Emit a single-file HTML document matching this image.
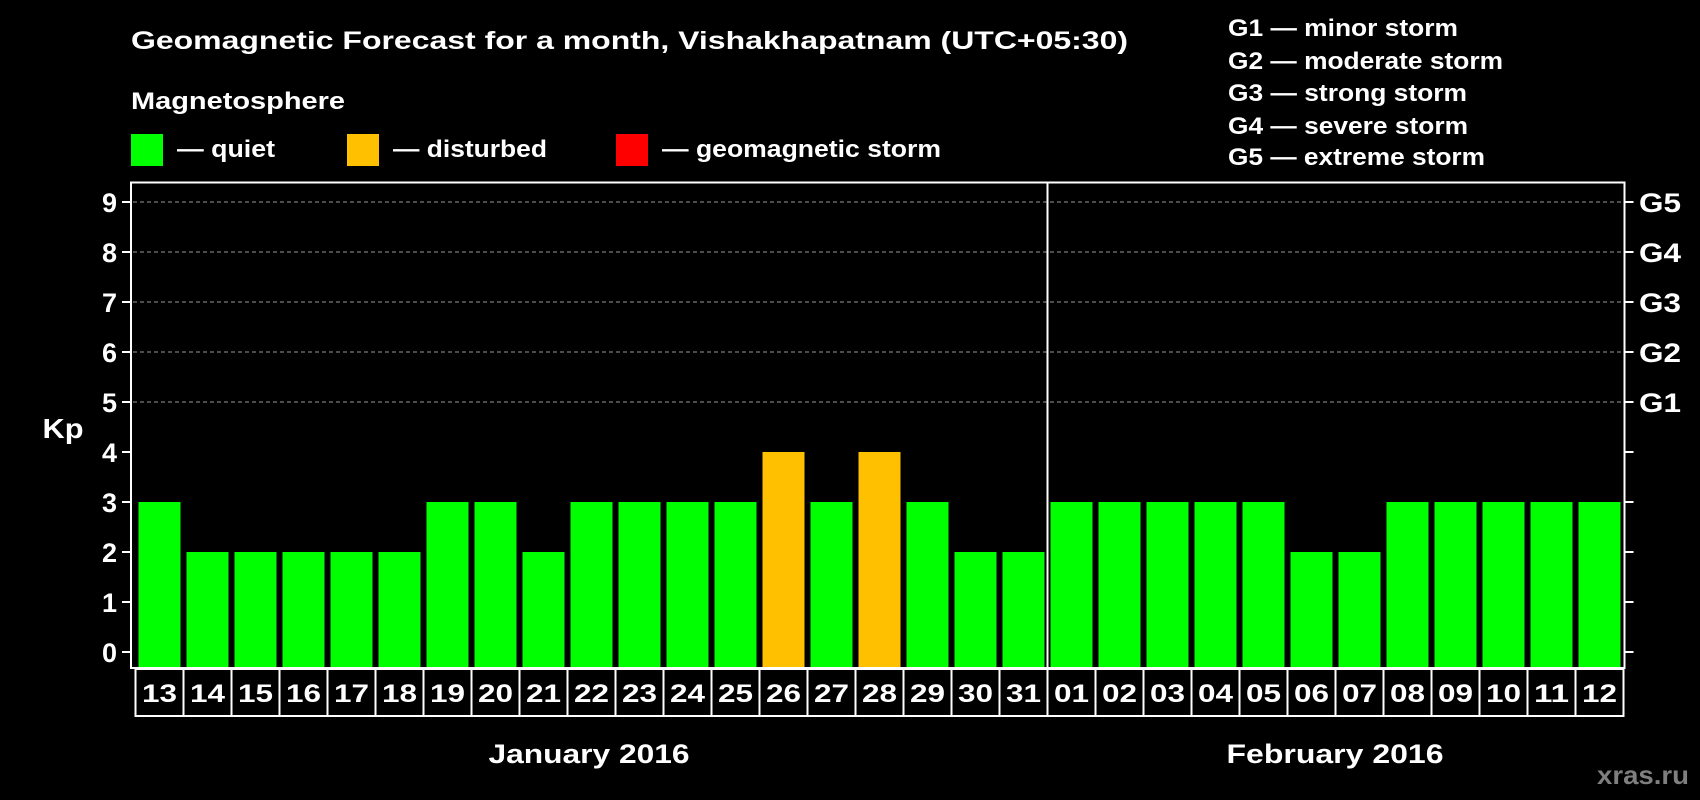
<!DOCTYPE html>
<html><head><meta charset="utf-8"><style>
html,body{margin:0;padding:0;background:#000;}
svg{display:block;font-family:"Liberation Sans",Arial,sans-serif;font-weight:bold;}
</style></head><body>
<svg id="chart" width="1700" height="800" viewBox="0 0 1700 800">
<rect width="1700" height="800" fill="#000"/>
<text x="131" y="49" fill="#fff" font-size="25" textLength="997" lengthAdjust="spacingAndGlyphs">Geomagnetic Forecast for a month, Vishakhapatnam (UTC+05:30)</text>
<text x="131" y="109" fill="#fff" font-size="24" textLength="214" lengthAdjust="spacingAndGlyphs">Magnetosphere</text>
<g><rect x="131" y="134" width="32" height="32" fill="#00ff00"/><text x="177" y="157" fill="#fff" font-size="24" textLength="98" lengthAdjust="spacingAndGlyphs">— quiet</text></g>
<g><rect x="347" y="134" width="32" height="32" fill="#ffc000"/><text x="393" y="157" fill="#fff" font-size="24" textLength="154" lengthAdjust="spacingAndGlyphs">— disturbed</text></g>
<g><rect x="616" y="134" width="32" height="32" fill="#ff0000"/><text x="662" y="157" fill="#fff" font-size="24" textLength="279" lengthAdjust="spacingAndGlyphs">— geomagnetic storm</text></g>
<g fill="#fff" font-size="24">
<text x="1228" y="36" textLength="230" lengthAdjust="spacingAndGlyphs">G1 — minor storm</text>
<text x="1228" y="69" textLength="275" lengthAdjust="spacingAndGlyphs">G2 — moderate storm</text>
<text x="1228" y="101" textLength="239" lengthAdjust="spacingAndGlyphs">G3 — strong storm</text>
<text x="1228" y="134" textLength="240" lengthAdjust="spacingAndGlyphs">G4 — severe storm</text>
<text x="1228" y="165" textLength="257" lengthAdjust="spacingAndGlyphs">G5 — extreme storm</text>
</g>
<text x="63" y="438" fill="#fff" font-size="28" text-anchor="middle" textLength="41" lengthAdjust="spacingAndGlyphs">Kp</text>
<text x="589" y="763" fill="#fff" font-size="27" text-anchor="middle" textLength="201" lengthAdjust="spacingAndGlyphs">January 2016</text>
<text x="1335" y="763" fill="#fff" font-size="27" text-anchor="middle" textLength="217" lengthAdjust="spacingAndGlyphs">February 2016</text>
<text x="1689" y="784" fill="#7f7f7f" font-size="26" text-anchor="end" textLength="92" lengthAdjust="spacingAndGlyphs">xras.ru</text>
<g id="plot"></g>
</svg>
<script>
const days = ["13","14","15","16","17","18","19","20","21","22","23","24","25","26","27","28","29","30","31","01","02","03","04","05","06","07","08","09","10","11","12"];
const kpValues = [3,2,2,2,2,2,3,3,2,3,3,3,3,4,3,4,3,2,2,3,3,3,3,3,2,2,3,3,3,3,3];
const yTicks = [0,1,2,3,4,5,6,7,8,9];
const gLabels = ["","","","","","G1","G2","G3","G4","G5"];
const monthStartIndex = 19;

const NS = "http://www.w3.org/2000/svg";
const g = document.getElementById('plot');
const x0 = 135.5, slot = 48, y0 = 652, unit = 50;
const xPos = i => x0 + i * slot;
const yPos = v => y0 - v * unit;
function mk(tag, attrs, parent){const e=document.createElementNS(NS,tag);for(const k in attrs)e.setAttribute(k,attrs[k]);(parent||g).appendChild(e);return e;}
const right = xPos(days.length);
yTicks.forEach((t,i)=>{
  if(t>=5){const l=mk('line',{x1:133,x2:right,y1:yPos(t),y2:yPos(t),stroke:'#999','stroke-width':1,'stroke-dasharray':'4,3'});
  
  }
  const tl=mk('line',{x1:122,x2:131,y1:yPos(t),y2:yPos(t),stroke:'#fff','stroke-width':2});
  
  
  const tr=mk('line',{x1:right+1,x2:right+10,y1:yPos(t),y2:yPos(t),stroke:'#fff','stroke-width':2});
  
  
  const lb=mk('text',{x:117,y:yPos(t)+10,fill:'#fff','font-size':27,'text-anchor':'end'});
  lb.textContent=t;
  
  
  if(gLabels[i]){const gl=mk('text',{x:1639,y:yPos(t)+10,fill:'#fff','font-size':27,textLength:42,lengthAdjust:'spacingAndGlyphs'});
  gl.textContent=gLabels[i];
  
  }
});
kpValues.forEach((v,i)=>{
  const col = v>=5?'#ff0000':(v>=4?'#ffc000':'#00ff00');
  const b=mk('rect',{x:xPos(i)+3,y:yPos(v),width:slot-6,height:667-yPos(v),fill:col});
  
  
  const c=mk('rect',{x:xPos(i),y:669,width:slot,height:47,fill:'none',stroke:'#fff','stroke-width':2});
  
  
  const t=mk('text',{x:xPos(i)+slot/2,y:702,fill:'#fff','font-size':25,'text-anchor':'middle',textLength:35,lengthAdjust:'spacingAndGlyphs'});
  t.textContent=days[i];
  
  
});
const fr=mk('rect',{x:131,y:182.5,width:right-131+1,height:485.5,fill:'none',stroke:'#fff','stroke-width':2});


const dv=mk('line',{x1:xPos(monthStartIndex),x2:xPos(monthStartIndex),y1:182.5,y2:716,stroke:'#fff','stroke-width':2});


</script>
</body></html>
